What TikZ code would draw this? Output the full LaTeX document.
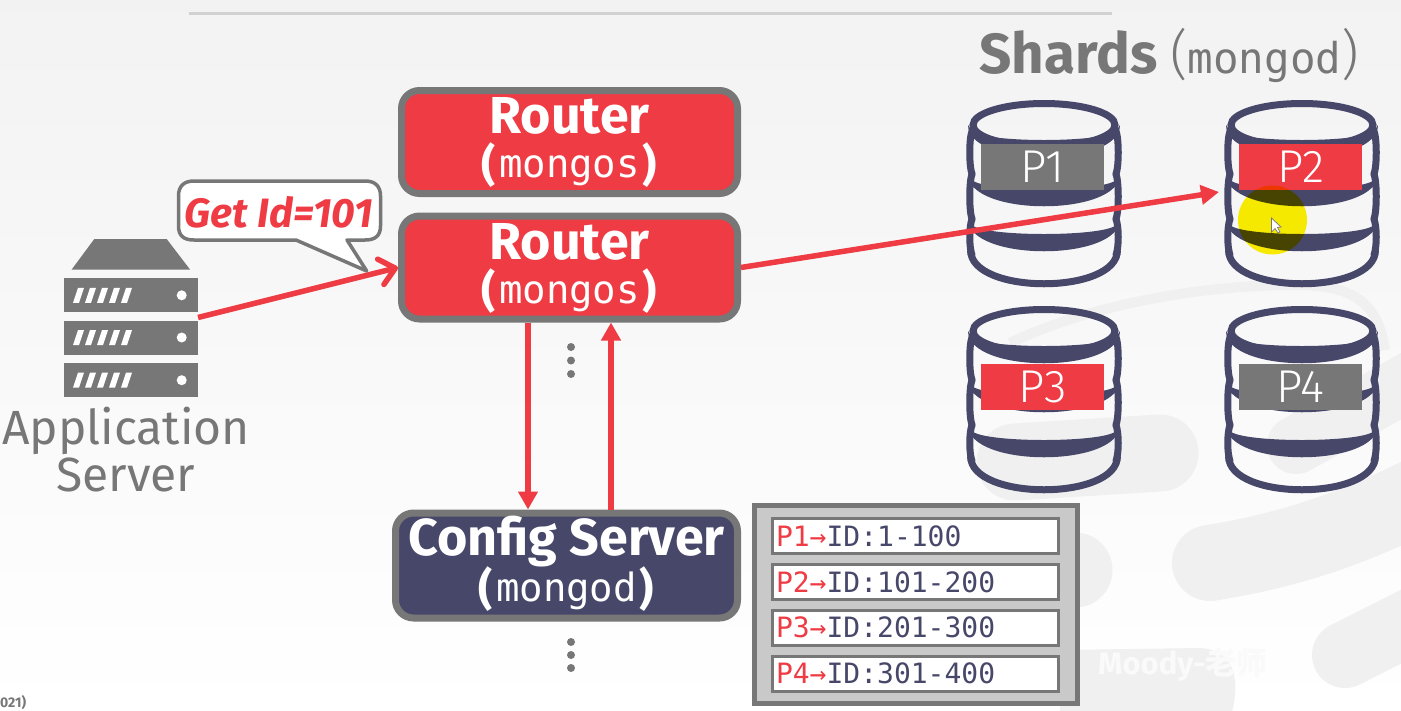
\documentclass[tikz,border=0pt]{standalone}
\usepackage{fontspec}
\setmainfont{Fira Sans}
\setmonofont{DejaVu Sans Mono}
\newfontfamily\lightFont{Fira Sans Light}
\newfontfamily\cjkFont{Noto Sans CJK SC}
\usetikzlibrary{arrows.meta, positioning, calc}
\definecolor{slideRed}{HTML}{EE3B44}
\definecolor{slideNavy}{HTML}{47476A}
\definecolor{slideGray}{HTML}{777777}
\definecolor{markGray}{HTML}{F0F0F0}
\newcommand{\titleFont}{\fontsize{52}{44}\selectfont\bfseries}
\newcommand{\parenFont}{\fontsize{44}{44}\selectfont\bfseries}
\newcommand{\codeFont}{\fontsize{39}{44}\selectfont\ttfamily\mdseries}
\newcommand{\codeLine}[1]{\smash{\raisebox{-3pt}{\parenFont(}}\hspace{3pt}{\codeFont #1}\hspace{3pt}\smash{\raisebox{-3pt}{\parenFont)}}}
\tikzstyle{box}=[draw=slideGray, line width=7pt, rounded corners=18pt, text=white, align=center, inner sep=0pt, font=\fontsize{12}{44}\selectfont]
\tikzstyle{routerBox}=[box, fill=slideRed, minimum width=336pt, minimum height=103pt]
\tikzstyle{configBox}=[box, fill=slideNavy, minimum width=342pt, minimum height=105pt]
\tikzstyle{partLabel}=[minimum width=123pt, minimum height=46pt, inner sep=0pt, text=white, font=\fontsize{46}{46}\selectfont\lightFont]
\tikzstyle{rowBox}=[draw=slideGray, line width=3pt, fill=white, minimum width=286pt, minimum height=35pt, text width=279pt, inner xsep=3.5pt, inner ysep=0pt, text=slideNavy, font=\fontsize{28}{28}\selectfont\ttfamily]
\tikzstyle{dotMark}=[circle, fill=slideGray, minimum size=8pt, inner sep=0pt]
\tikzstyle{redArrow}=[draw=slideRed, line width=5.5pt]
\tikzstyle{rackBox}=[fill=slideGray, minimum width=134.5pt, minimum height=34pt, inner sep=0pt]
\newcommand\nodeRack{}
\def\nodeRack(#1,#2){%
  \node[rackBox] (#1) at (130.75,#2) {};
  \foreach \slashX in {0,...,4}
    \fill[white] (73+12*\slashX,#2+7.5) -- (79+12*\slashX,#2+7.5) -- (84+12*\slashX,#2-7.5) -- (78+12*\slashX,#2-7.5) -- cycle;
  \fill[white] (181.7,#2) circle (5);
}
\newcommand\nodeShard{}
\def\nodeShard(#1,#2,#3,#4,#5,#6){%
  \begin{scope}[shift={(#2,#3)}]
    \draw[slideNavy, line width=7pt] (0,0) ellipse [x radius=71, y radius=21.5];
    \foreach \bandTop in {0,49,94}
      \fill[slideNavy] (-76,\bandTop) .. controls (-76,\bandTop+43) and (76,\bandTop+43) .. (76,\bandTop)
        -- (72,\bandTop+6) .. controls (60,\bandTop+18) and (-60,\bandTop+18) .. (-72,\bandTop+6) -- cycle;
    \foreach \sideA/\sideB in {6/49,49/94,94/130}{
      \draw[slideNavy, line width=7pt, line cap=round] (-72,\sideA) .. controls (-75,\sideA+8) and (-75,\sideB-8) .. (-72,\sideB);
      \draw[slideNavy, line width=7pt, line cap=round] (72,\sideA) .. controls (75,\sideA+8) and (75,\sideB-8) .. (72,\sideB);
    }
    \draw[slideNavy, line width=7pt] (-73.5,125) .. controls (-73.5,170) and (73.5,170) .. (73.5,125);
  \end{scope}
  \node[partLabel, fill=#5] (#1) at (#2-1.5,#4) {\raisebox{-2pt}{#6}};
}

\begin{document}
\begin{tikzpicture}[x=1pt, y=-1pt]
    \useasboundingbox (0,0) rectangle (1401,710);
    % slide background and watermark
    \shade[top color=black!5, bottom color=white] (0,0) rectangle (1401,710);
    \begin{scope}
      \clip (0,0) rectangle (1401,710);
      \draw[markGray, line width=10pt] (1010,343) .. controls (1100,300) and (1220,284) .. (1300,285) .. controls (1350,286) and (1378,300) .. (1385,350);
      \draw[markGray, line width=77pt, line cap=round] (1015,462) -- (1160,453);
      \draw[markGray, line width=58pt, line cap=round] (1296,445) -- (1430,370);
      \draw[markGray, line width=76pt, line cap=round] (1210,563) .. controls (1290,550) and (1350,530) .. (1430,490);
      \draw[markGray, line width=66pt, line cap=round] (1345,655) -- (1430,612);
      \fill[markGray] (1075,570) circle (37.5);
      \fill[markGray] (1060,712) -- (1060,650) -- (1200,648) .. controls (1235,650) and (1240,680) .. (1232,712) -- cycle;
    \end{scope}
    \node[anchor=west, inner sep=0pt, text=white!98!black, font=\fontsize{31}{31}\selectfont\bfseries] (markText) at (1098,665) {Moody-{\cjkFont 老师}};
    \draw[black!18, line width=3pt] (189,13) -- (1112,13);
    \node[anchor=west, inner sep=0pt, text=slideGray, font=\fontsize{14}{14}\selectfont\bfseries] (pageNote) at (0,703) {021)};

    % application server
    \fill[slideGray] (94.3,239) -- (166.7,239) -- (190,269.5) -- (71.7,269.5) -- cycle;
    \nodeRack(rackA,295.3)
    \nodeRack(rackB,337.5)
    \nodeRack(rackC,380.2)
    \node[inner sep=0pt, align=center, text=slideGray, font=\fontsize{48}{47}\selectfont] (appLabel) at (126,450) {Application\\Server};
    \coordinate (appOut) at (198,317.5);

    % callout
    \draw[slideGray, line width=3.5pt, fill=white, line join=round] (194,181) -- (365,181)
      .. controls (375,181) and (380.5,186) .. (380.5,196) -- (380.5,226)
      .. controls (380.5,236) and (375,240) .. (365,240) -- (347,240) -- (366.7,271) -- (296,240) -- (194,240)
      .. controls (184,240) and (178.5,236) .. (178.5,226) -- (178.5,196)
      .. controls (178.5,186) and (184,181) .. (194,181) -- cycle;
    \node[inner sep=0pt, text=slideRed, font=\fontsize{41}{41}\selectfont\bfseries\itshape] (getLabel) at (279,212) {Get Id=101};

    % routers and config server
    \node[routerBox] (routerA) at (569.5,142) {\titleFont Router\\\codeLine{mongos}};
    \node[routerBox] (routerB) at (569.5,267.5) {\titleFont Router\\\codeLine{mongos}};
    \node[configBox] (configBox) at (566.5,565.5) {\titleFont Config Server\\[2pt]\codeLine{mongod}\rule[-13pt]{0pt}{13pt}};
    \foreach \dotName/\dotY in {a/347,b/360.5,c/374,d/642,e/655,f/668}
      \node[dotMark] (dot\dotName) at (571,\dotY) {};

    % shards
    \node[inner sep=0pt, anchor=base west, text=slideGray, font=\fontsize{56.5}{56}\selectfont\bfseries] (shardTitle) at (979,73) {Shards};
    \node[inner sep=0pt, anchor=base west, text=slideGray, font=\fontsize{54}{54}\selectfont\lightFont] (shardCode) at (1170,73) {(\fontsize{42.5}{42}\selectfont\ttfamily mongod\lightFont\fontsize{54}{54}\selectfont)};
    \nodeShard(partA,1044,125,167,slideGray,P1)
    \nodeShard(partB,1302,125,167,slideRed,P2)
    \nodeShard(partC,1044,331,387,slideRed,P3)
    \nodeShard(partD,1302,331,387,slideGray,P4)
    \coordinate (partInput) at (1219,192);

    % arrows
    \draw[redArrow, -{Straight Barb[length=15pt, width=26pt, line width=5.5pt, round]}] (appOut) -- (routerB.west);
    \draw[redArrow, -{Triangle[length=18pt, width=19pt]}] (routerB.east) -- (partInput);
    \draw[redArrow, -{Triangle[length=18pt, width=19pt]}] ([xshift=-41.5pt]routerB.south) -- ([xshift=-38.5pt]configBox.north);
    \draw[redArrow, -{Triangle[length=18pt, width=19pt]}] ([xshift=44.5pt]configBox.north) -- ([xshift=41.5pt]routerB.south);

    % partition table
    \node[draw=slideGray, line width=5pt, fill=black!21, minimum width=323pt, minimum height=198pt, inner sep=0pt] (mapTable) at (916,604.5) {};
    \foreach \rowName/\rowY/\rowPart/\rowRange in {a/536/P1/1-100,b/582/P2/101-200,c/627.5/P3/201-300,d/673.5/P4/301-400}
      \node[rowBox] (row\rowName) at (915.5,\rowY) {\raisebox{-2pt}{\textcolor{slideRed}{\rowPart→}ID:\rowRange}};

    % cursor highlight
    \fill[yellow, blend mode=multiply] (1272.5,220) circle (34.5);
    \fill[white, draw=slideGray, line width=0.7pt] (1271.5,218) -- (1271.5,232) -- (1275,228.5) -- (1278,233) -- (1280,232) -- (1277.5,227.5) -- (1281,227) -- cycle;
\end{tikzpicture}
\end{document}
